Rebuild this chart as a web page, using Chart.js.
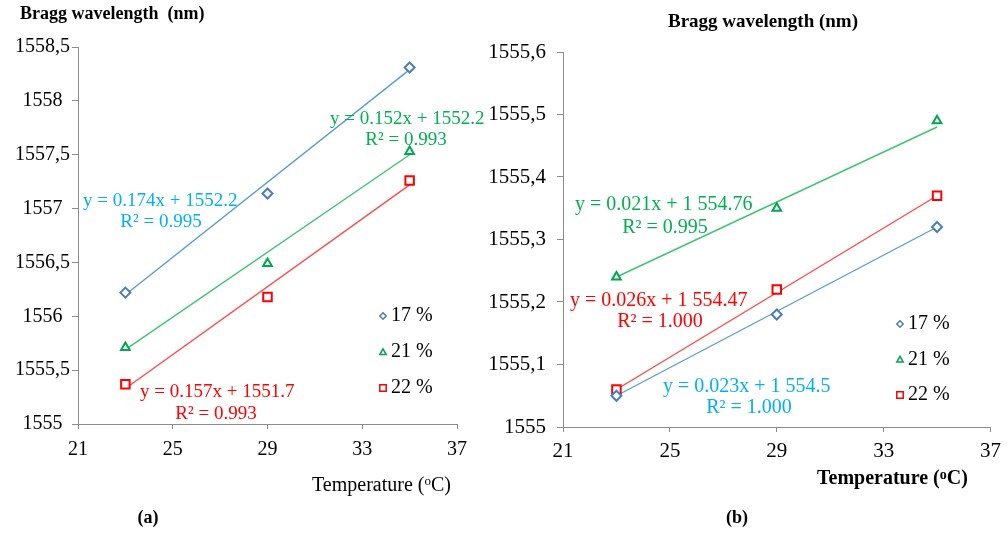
<!DOCTYPE html>
<html><head><meta charset="utf-8">
<script src="https://cdn.jsdelivr.net/npm/chart.js@4.4.1/dist/chart.umd.min.js"></script>
<style>
body{margin:0;background:#fff;width:1008px;height:534px;overflow:hidden;position:relative}
canvas{position:absolute;top:0}
</style></head><body>
<canvas id="ca" width="490" height="534" style="left:0;width:490px;height:534px"></canvas>
<canvas id="cb" width="518" height="534" style="left:490px;width:518px;height:534px"></canvas>
<script>
// ---- data ----
const temperatures = [23, 29, 35];
const trendX = [23, 35];
const seriesNames = ['17 %', '21 %', '22 %'];
const xTicks = [21, 25, 29, 33, 37];

// panel (a)
const aWl17 = [1556.22, 1557.14, 1558.31];
const aWl21 = [1555.71, 1556.49, 1557.53];
const aWl22 = [1555.37, 1556.18, 1557.26];
const aTrend17 = [1556.20, 1558.29];
const aTrend21 = [1555.69, 1557.50];
const aTrend22 = [1555.33, 1557.22];
const aYTicks = ['1555', '1555,5', '1556', '1556,5', '1557', '1557,5', '1558', '1558,5'];
const aEq = ['y = 0.174x + 1552.2', 'y = 0.152x + 1552.2', 'y = 0.157x + 1551.7'];
const aR2 = ['R² = 0.995', 'R² = 0.993', 'R² = 0.993'];

// panel (b)
const bWl17 = [1555.05, 1555.18, 1555.32];
const bWl21 = [1555.24, 1555.35, 1555.49];
const bWl22 = [1555.06, 1555.22, 1555.37];
const bTrend17 = [1555.05, 1555.32];
const bTrend21 = [1555.24, 1555.48];
const bTrend22 = [1555.06, 1555.37];
const bYTicks = ['1555', '1555,1', '1555,2', '1555,3', '1555,4', '1555,5', '1555,6'];
const bEq = ['y = 0.023x + 1 554.5', 'y = 0.021x + 1 554.76', 'y = 0.026x + 1 554.47'];
const bR2 = ['R² = 1.000', 'R² = 0.995', 'R² = 1.000'];

// ---- styles ----
const SERIF = "'Liberation Serif', 'Times New Roman', serif";
const markerColors = ['#4a7ebb', '#00a650', '#ff0000'];
const lineColors = ['#5b9bd5', '#3fc46f', '#ff4a4a'];
const eqColors = ['#00b0f0', '#00b050', '#ff0000'];
const shapes = ['rectRot', 'triangle', 'rect'];
const radii = [5, 5, 6];

Chart.defaults.font.family = SERIF;
Chart.defaults.color = '#000';

function pts(xs, ys) { return xs.map((x, i) => ({x: x, y: ys[i]})); }

function drawShape(ctx, shape, x, y, s, color) {
  ctx.save();
  ctx.strokeStyle = color; ctx.lineWidth = 1.5; ctx.fillStyle = '#fff';
  ctx.beginPath();
  if (shape === 'rectRot') {
    ctx.moveTo(x, y - s); ctx.lineTo(x + s, y); ctx.lineTo(x, y + s); ctx.lineTo(x - s, y); ctx.closePath();
  } else if (shape === 'triangle') {
    ctx.moveTo(x, y - s); ctx.lineTo(x + s, y + s * 0.8); ctx.lineTo(x - s, y + s * 0.8); ctx.closePath();
  } else {
    ctx.rect(x - s, y - s, 2 * s, 2 * s);
  }
  ctx.fill(); ctx.stroke();
  ctx.restore();
}

const textPlugin = {
  id: 'texts',
  afterDraw(chart, args, opts) {
    const ctx = chart.ctx;
    ctx.save();
    (opts.items || []).forEach(it => {
      ctx.font = it.font;
      ctx.fillStyle = it.color || '#000';
      ctx.textBaseline = 'middle';
      ctx.textAlign = it.align || 'left';
      if (it.sup) {
        ctx.textAlign = 'left';
        let x = it.x;
        ctx.fillText(it.parts[0], x, it.y); x += ctx.measureText(it.parts[0]).width;
        const big = ctx.font;
        ctx.font = it.supFont;
        ctx.fillText(it.parts[1], x, it.y - 4); x += ctx.measureText(it.parts[1]).width;
        ctx.font = big;
        ctx.fillText(it.parts[2], x, it.y);
      } else {
        ctx.fillText(it.t, it.x, it.y);
      }
    });
    (opts.legend || []).forEach(l => {
      drawShape(ctx, l.shape, l.x, l.y, l.s, l.color);
      ctx.font = l.font; ctx.fillStyle = '#000'; ctx.textAlign = 'left'; ctx.textBaseline = 'middle';
      ctx.fillText(l.t, l.x + 8, l.y);
    });
    ctx.restore();
  }
};

function makePanel(id, p) {
  const series = [p.s17, p.s21, p.s22];
  const trends = [p.t17, p.t21, p.t22];
  const datasets = [];
  trends.forEach((t, i) => datasets.push({
    type: 'line', data: pts(trendX, t), borderColor: lineColors[i], borderWidth: 1.4,
    pointRadius: 0, fill: false, showLine: true, order: 2
  }));
  series.forEach((s, i) => datasets.push({
    type: 'scatter', label: seriesNames[i], data: pts(temperatures, s), showLine: false,
    pointStyle: shapes[i], pointRadius: radii[i], pointBorderWidth: 2,
    pointBorderColor: markerColors[i], pointBackgroundColor: '#fff', order: 1
  }));
  return new Chart(document.getElementById(id), {
    type: 'scatter',
    data: { datasets: datasets },
    plugins: [textPlugin],
    options: {
      responsive: false, animation: false, devicePixelRatio: 1,
      layout: { padding: p.padding },
      plugins: { legend: { display: false }, tooltip: { enabled: false },
        texts: { items: p.items, legend: p.legend } },
      scales: {
        x: {
          type: 'linear', min: 21, max: 37,
          afterBuildTicks: s => { s.ticks = xTicks.map(v => ({value: v})); },
          afterFit: s => { s.height = 40; },
          grid: { drawOnChartArea: false, drawTicks: true, tickLength: 5, color: '#8c8c8c' },
          border: { color: '#8c8c8c', width: 1 },
          ticks: { font: { size: p.tickSize }, color: '#000', padding: p.xPad, maxRotation: 0,
            callback: (v) => String(v) }
        },
        y: {
          type: 'linear', min: p.yMin, max: p.yMax,
          ticks: { stepSize: p.yStep, font: { size: p.tickSize }, color: '#000', padding: p.yPad,
            crossAlign: p.crossAlign, callback: (v, i) => p.yTicks[i] },
          afterFit: s => { s.width = p.yWidth; },
          grid: { drawOnChartArea: false, drawTicks: true, tickLength: 6, color: '#8c8c8c' },
          border: { color: '#8c8c8c', width: 1 }
        }
      }
    }
  });
}

const legendA = seriesNames.map((n, i) => ({ t: n, shape: shapes[i], color: markerColors[i], s: 3.2,
  x: 383, y: 316 + i * 36, font: '20px ' + SERIF }));
const legendB = seriesNames.map((n, i) => ({ t: n, shape: shapes[i], color: markerColors[i], s: 3.2,
  x: 900 - 490, y: 324 + i * 35.5, font: '20px ' + SERIF }));

makePanel('ca', {
  s17: aWl17, s21: aWl21, s22: aWl22, t17: aTrend17, t21: aTrend21, t22: aTrend22,
  yMin: 1555, yMax: 1558.5, yStep: 0.5, yTicks: aYTicks, tickSize: 20,
  yWidth: 78, yPad: 2, xPad: 9, crossAlign: 'center',
  padding: { left: 0, top: 47, right: 33, bottom: 70 },
  legend: legendA,
  items: [
    { t: 'Bragg wavelength  (nm)', x: 20, y: 14, font: 'bold 18px ' + SERIF },
    { sup: true, parts: ['Temperature (', 'o', 'C)'], x: 312, y: 486, font: '20px ' + SERIF, supFont: '13px ' + SERIF },
    { t: '(a)', x: 148, y: 518, align: 'center', font: 'bold 18px ' + SERIF },
    { t: aEq[0], x: 83, y: 201, color: eqColors[0], font: '19px ' + SERIF },
    { t: aR2[0], x: 161, y: 222, align: 'center', color: eqColors[0], font: '19px ' + SERIF },
    { t: aEq[1], x: 330, y: 119, color: eqColors[1], font: '19px ' + SERIF },
    { t: aR2[1], x: 406, y: 140, align: 'center', color: eqColors[1], font: '19px ' + SERIF },
    { t: aEq[2], x: 140, y: 392, color: eqColors[2], font: '19px ' + SERIF },
    { t: aR2[2], x: 216, y: 414, align: 'center', color: eqColors[2], font: '19px ' + SERIF }
  ]
});

makePanel('cb', {
  s17: bWl17, s21: bWl21, s22: bWl22, t17: bTrend17, t21: bTrend21, t22: bTrend22,
  yMin: 1555, yMax: 1555.6, yStep: 0.1, yTicks: bYTicks, tickSize: 21,
  yWidth: 73, yPad: 11, xPad: 7, crossAlign: 'near',
  padding: { left: 0, top: 52, right: 12, bottom: 67 },
  legend: legendB,
  items: [
    { t: 'Bragg wavelength (nm)', x: 273, y: 22, align: 'center', font: 'bold 19px ' + SERIF },
    { sup: true, parts: ['Temperature (', 'o', 'C)'], x: 817 - 490, y: 479, font: 'bold 20px ' + SERIF, supFont: 'bold 14px ' + SERIF },
    { t: '(b)', x: 737 - 490, y: 518, align: 'center', font: 'bold 18px ' + SERIF },
    { t: bEq[1], x: 575 - 490, y: 205, color: eqColors[1], font: '20px ' + SERIF },
    { t: bR2[1], x: 665 - 490, y: 228, align: 'center', color: eqColors[1], font: '20px ' + SERIF },
    { t: bEq[2], x: 570 - 490, y: 301, color: eqColors[2], font: '20px ' + SERIF },
    { t: bR2[2], x: 660 - 490, y: 322, align: 'center', color: eqColors[2], font: '20px ' + SERIF },
    { t: bEq[0], x: 663 - 490, y: 387, color: eqColors[0], font: '20px ' + SERIF },
    { t: bR2[0], x: 749 - 490, y: 408, align: 'center', color: eqColors[0], font: '20px ' + SERIF }
  ]
});
</script>
</body></html>
